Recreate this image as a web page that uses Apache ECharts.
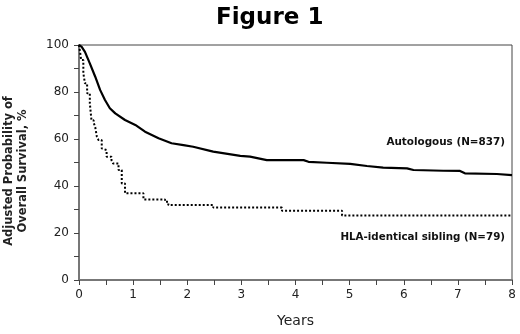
<!DOCTYPE html>
<html>
<head>
<meta charset="utf-8">
<script src="https://cdn.jsdelivr.net/npm/echarts@6/dist/echarts.min.js"></script>
<style>
  html, body { margin: 0; padding: 0; background: #fff; }
  #chart { width: 520px; height: 334px; }
</style>
</head>
<body>
<div id="chart"></div>
<script>
// 数据：年 / 调整后总生存率(%)
var autoYears = [0, 0.05, 0.11, 0.2, 0.3, 0.39, 0.48, 0.57, 0.67, 0.85, 1.04, 1.22, 1.47, 1.71, 1.93, 2.11, 2.48, 2.98, 3.16, 3.47, 4.15, 4.24, 4.58, 5.01, 5.32, 5.62, 6.06, 6.18, 6.73, 7.04, 7.13, 7.72, 7.75, 8];
var autoValues = [100, 99.2, 97.1, 92.2, 86.5, 80.9, 76.6, 73.1, 70.9, 68.1, 66, 63.1, 60.3, 58.2, 57.4, 56.7, 54.6, 52.8, 52.5, 51, 51, 50.3, 49.9, 49.4, 48.5, 47.8, 47.5, 46.8, 46.5, 46.4, 45.4, 45.1, 44.6, 44.6];

var hlaYears = [0, 0.02, 0.04, 0.08, 0.11, 0.15, 0.2, 0.23, 0.27, 0.3, 0.33, 0.36, 0.42, 0.45, 0.51, 0.6, 0.63, 0.73, 0.79, 0.85, 1.19, 1.59, 1.65, 2.48, 3.75, 4.86, 8];
var hlaValues = [100, 97, 93.6, 88, 83.7, 79.5, 75.2, 68, 67, 65, 61, 59.6, 56, 55.3, 52.5, 51, 49.6, 46.8, 41.1, 36.9, 34.3, 33.3, 31.9, 30.8, 29.5, 27.5, 27.5];

var xTicks = [0, 1, 2, 3, 4, 5, 6, 7, 8];
var yTicks = [0, 20, 40, 60, 80, 100];

function pairs(xs, ys) {
    return xs.map(function(x, i) { return [x, ys[i]]; });
}

var myChart = echarts.init(document.getElementById('chart'));

var font = 'DejaVu Sans, Verdana, sans-serif';

var option = {
    animation: false,
    title: {
        text: 'Figure 1',
        left: 211,
        top: 2,
        textStyle: { fontFamily: font, fontSize: 23, fontWeight: 'bold', color: '#000' }
    },
    grid: {
        left: 79, right: 8, top: 45, bottom: 54,
        show: true,
        borderColor: '#444',
        borderWidth: 1
    },
    xAxis: {
        type: 'value',
        min: 0, max: 8, interval: 1,
        name: 'Years',
        nameLocation: 'middle',
        nameGap: 34,
        nameTextStyle: { fontFamily: font, fontSize: 14, color: '#222' },
        axisLine: { lineStyle: { color: '#777', width: 2 } },
        axisTick: { show: true, length: 5, lineStyle: { color: '#444' } },
        minorTick: { show: true, splitNumber: 2, length: 5, lineStyle: { color: '#444' } },
        splitLine: { show: false },
        axisLabel: {
            fontFamily: font, fontSize: 12, color: '#222', margin: 9,
            formatter: function(v) { return xTicks.indexOf(v) >= 0 ? String(v) : ''; }
        }
    },
    yAxis: {
        type: 'value',
        min: 0, max: 100, interval: 20,
        axisLine: { show: true, lineStyle: { color: '#777', width: 2 } },
        axisTick: { show: true, length: 5, lineStyle: { color: '#444' } },
        minorTick: { show: true, splitNumber: 2, length: 5, lineStyle: { color: '#444' } },
        splitLine: { show: false },
        axisLabel: {
            fontFamily: font, fontSize: 12, color: '#222', margin: 10,
            formatter: function(v) { return yTicks.indexOf(v) >= 0 ? String(v) : ''; }
        }
    },
    series: [
        {
            name: 'Autologous (N=837)',
            type: 'line',
            data: pairs(autoYears, autoValues),
            showSymbol: false,
            lineStyle: { color: '#000', width: 2.2 }
        },
        {
            name: 'HLA-identical sibling (N=79)',
            type: 'line',
            step: 'end',
            data: pairs(hlaYears, hlaValues),
            showSymbol: false,
            lineStyle: { color: '#000', width: 2, type: [2, 2] }
        }
    ],
    graphic: [
        {
            // y 轴标题（两行，旋转）
            type: 'text', x: 16, y: 171, rotation: Math.PI / 2,
            style: {
                text: 'Adjusted Probability of\nOverall Survival, %',
                font: 'bold 11.5px ' + font, fill: '#222',
                align: 'center', verticalAlign: 'middle', lineHeight: 14
            }
        },
        {
            type: 'text', x: 505, y: 142,
            style: { text: 'Autologous (N=837)', font: 'bold 10.4px ' + font, fill: '#111', align: 'right', verticalAlign: 'middle' }
        },
        {
            type: 'text', x: 505, y: 237,
            style: { text: 'HLA-identical sibling (N=79)', font: 'bold 10.3px ' + font, fill: '#111', align: 'right', verticalAlign: 'middle' }
        }
    ]
};

myChart.setOption(option);

window.addEventListener('resize', function() {
    myChart.resize();
});
</script>
</body>
</html>
